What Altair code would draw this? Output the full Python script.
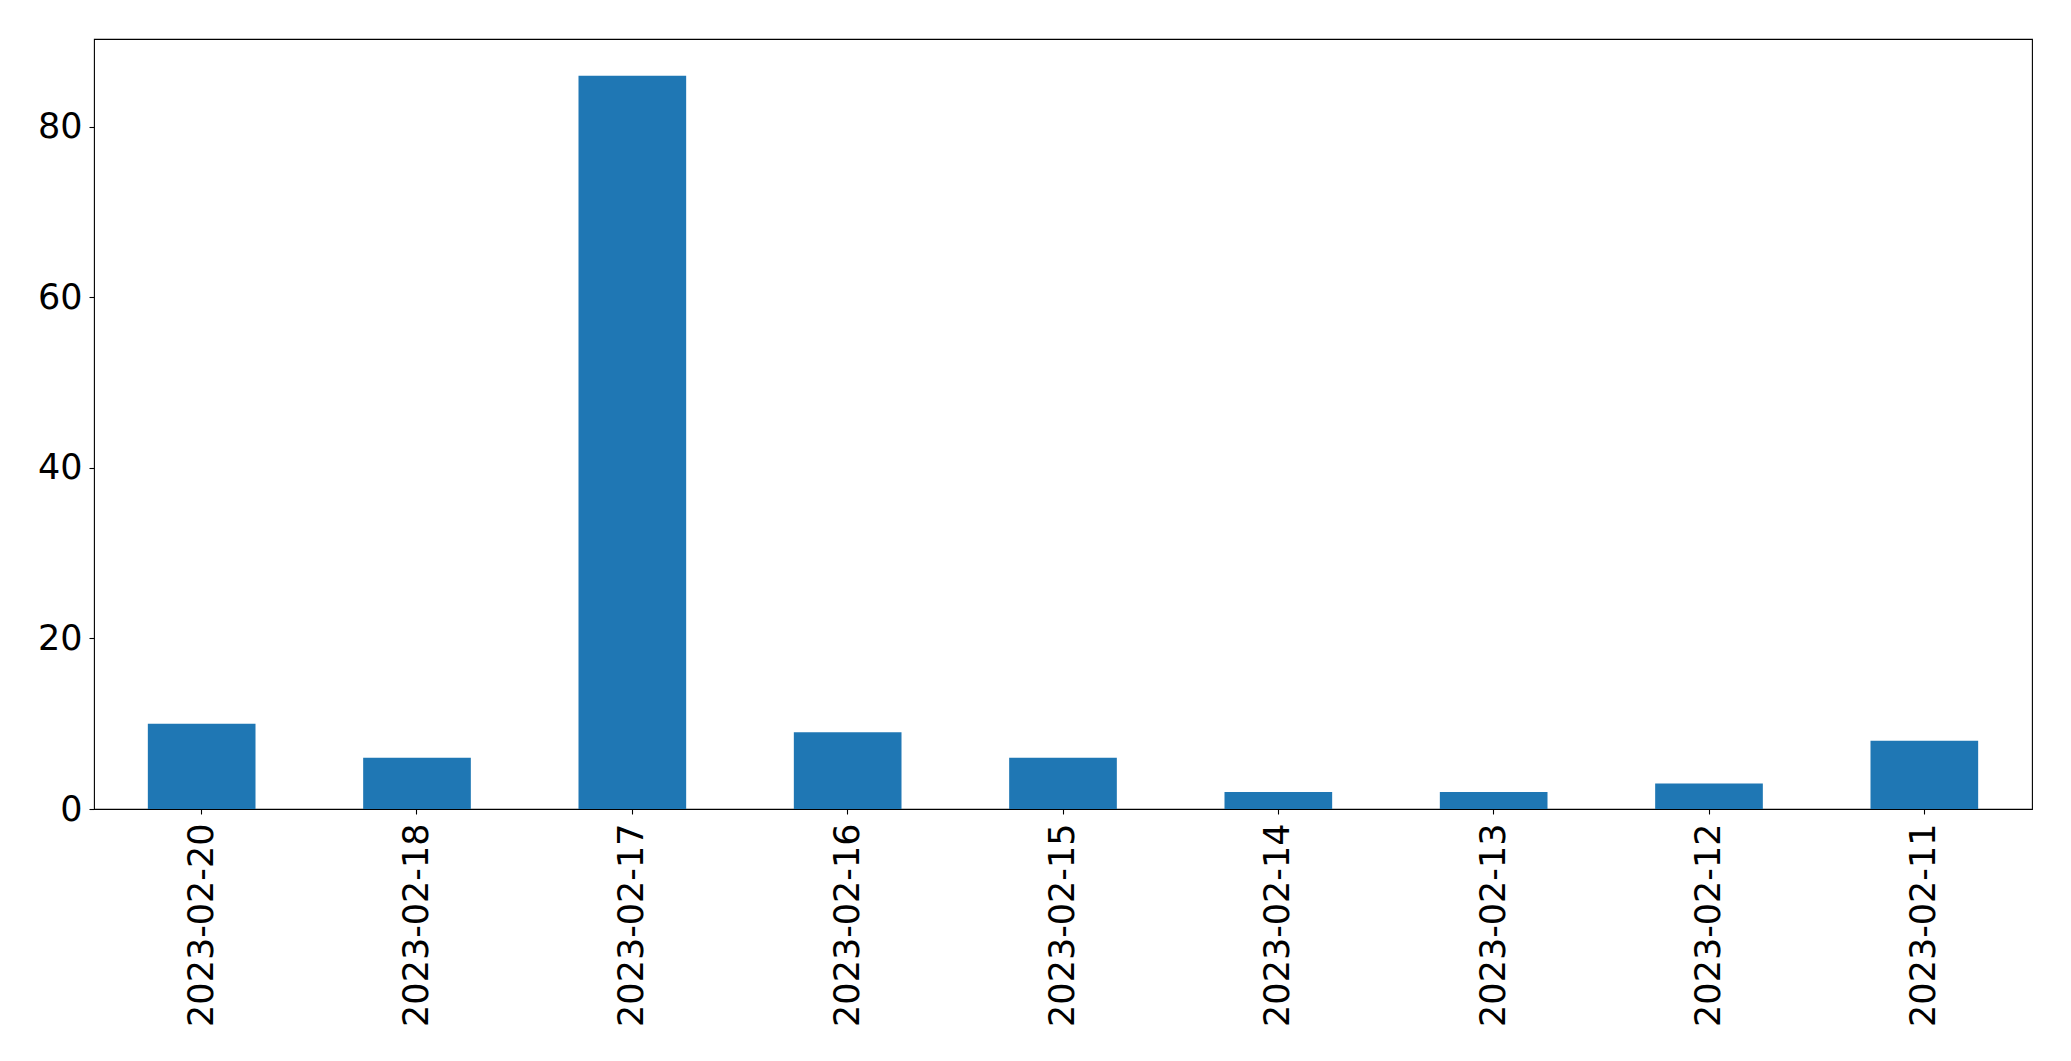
import altair as alt
import pandas as pd

dates = ["2023-02-20", "2023-02-18", "2023-02-17", "2023-02-16", "2023-02-15",
         "2023-02-14", "2023-02-13", "2023-02-12", "2023-02-11"]
counts = [10, 6, 86, 9, 6, 2, 2, 3, 8]
y_ticks = [0, 20, 40, 60, 80]

df = pd.DataFrame({"date": dates, "count": counts})

FONT = "DejaVu Sans"

chart = alt.Chart(df).mark_bar(color="#1f77b4").encode(
    x=alt.X("date:N", sort=None, title=None,
            scale=alt.Scale(paddingInner=0.5, paddingOuter=0.25),
            axis=alt.Axis(labelAngle=-90, labelAlign="right", labelBaseline="middle",
                          labelFont=FONT, labelFontSize=35, labelColor="black",
                          labelLimit=0, labelOverlap=False,
                          labelPadding=9, tickSize=5, tickColor="black", tickWidth=1.1,
                          domain=False, grid=False)),
    y=alt.Y("count:Q", title=None,
            scale=alt.Scale(domain=[0, 90.3], nice=False, zero=True),
            axis=alt.Axis(values=y_ticks, labelFont=FONT, labelFontSize=35,
                          labelColor="black", labelPadding=7, tickSize=5,
                          tickColor="black", tickWidth=1.1, domain=False, grid=False)),
).properties(
    width=1938,
    height=770,
    background="white",
    autosize=alt.AutoSizeParams(type="none"),
    padding={"left": 86, "top": 31, "right": 25, "bottom": 230},
).configure_view(
    stroke="black", strokeWidth=1.1
)

chart.save("out.html", embed_options={"renderer": "svg", "actions": False})
